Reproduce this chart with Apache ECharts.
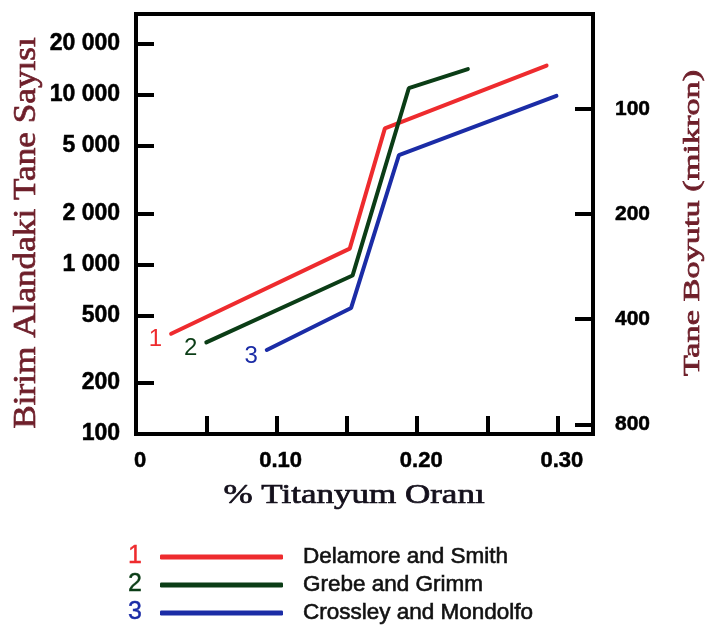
<!DOCTYPE html>
<html>
<head>
<meta charset="utf-8">
<script src="https://cdn.jsdelivr.net/npm/echarts@6/dist/echarts.min.js"></script>
<style>
  html, body { margin: 0; padding: 0; background: #fff; }
  #chart { width: 706px; height: 630px; }
</style>
</head>
<body>
<div id="chart"></div>
<script>
// Titanium content (%) vs. grain count per unit area, three studies
const seriesNames = ['Delamore and Smith', 'Grebe and Grimm', 'Crossley and Mondolfo'];
const seriesTags = ['1', '2', '3'];
const seriesColors = ['#ee2b2e', '#0b3d16', '#1b2ca6'];

const titaniumDelamore = [0.025, 0.152, 0.177, 0.292];
const countDelamore    = [390, 1240, 6350, 14900];

const titaniumGrebe = [0.050, 0.154, 0.194, 0.236];
const countGrebe    = [347, 860, 10950, 14200];

const titaniumCrossley = [0.093, 0.153, 0.187, 0.299];
const countCrossley    = [313, 554, 4420, 9870];

// axis ticks and ranges
const xTickValues = [0.05, 0.10, 0.15, 0.20, 0.25, 0.30];
const xLabelValues = [0, 0.10, 0.20, 0.30];
const xMin = 0, xMax = 0.325;

const countTickValues = [100, 200, 500, 1000, 2000, 5000, 10000, 20000];
const countMin = 100, countMax = 30000;

const sizeTickValues = [100, 200, 400, 800];
const sizeMin = 53.5, sizeMax = 853;

const titanium = [titaniumDelamore, titaniumGrebe, titaniumCrossley];
const counts = [countDelamore, countGrebe, countCrossley];

function groupThousands(n) {
  return n >= 1000 ? String(n).replace(/\B(?=(\d{3})+(?!\d))/g, ' ') : String(n);
}

const tickFont = { fontFamily: 'Liberation Sans', fontWeight: 'bold', color: '#000',
  textBorderColor: '#000', textBorderWidth: 0.5 };
const tickLine = { color: '#000', width: 4 };

const series = titanium.map((xs, s) => ({
  name: seriesNames[s],
  type: 'line',
  xAxisIndex: 0,
  yAxisIndex: 0,
  color: seriesColors[s],
  symbol: 'circle',
  symbolSize: 0,
  showSymbol: true,
  lineStyle: { width: 4, color: seriesColors[s], cap: 'round' },
  label: { show: false },
  emphasis: { disabled: true },
  data: xs.map((x, i) => {
    const item = { value: [x, counts[s][i]] };
    if (i === 0) {
      item.label = {
        show: true,
        position: 'left',
        distance: 9,
        offset: [0, 6],
        formatter: seriesTags[s],
        fontFamily: 'Liberation Sans',
        fontSize: 24,
        color: seriesColors[s]
      };
    }
    return item;
  })
}));

function titleText(text, x, y, size, rotation, stretch, fill) {
  return {
    type: 'text', x: x, y: y, rotation: rotation, scaleX: stretch, scaleY: 1,
    style: { text: text, font: size + 'px "Liberation Serif"', fill: fill,
      stroke: fill, lineWidth: 0.7,
      align: 'center', verticalAlign: 'middle', textAlign: 'center', textVerticalAlign: 'middle' }
  };
}

function tagText(s, y) {
  return {
    type: 'text', x: 135, y: y,
    style: { text: seriesTags[s], font: '25px "Liberation Sans"', fill: seriesColors[s],
      stroke: seriesColors[s], lineWidth: 0.4,
      align: 'center', verticalAlign: 'middle', textAlign: 'center', textVerticalAlign: 'middle' }
  };
}

const chart = echarts.init(document.getElementById('chart'), null, { renderer: 'canvas' });

chart.setOption({
  animation: false,
  backgroundColor: '#fff',
  grid: {
    left: 136, right: 113, top: 14, bottom: 196,
    show: true, borderColor: '#000', borderWidth: 4, backgroundColor: 'transparent'
  },
  xAxis: {
    type: 'value', min: xMin, max: xMax,
    axisLine: { show: false },
    splitLine: { show: false },
    axisTick: { show: true, inside: true, length: 18, customValues: xTickValues, lineStyle: tickLine },
    axisLabel: Object.assign({
      customValues: xLabelValues, margin: 16, fontSize: 22, padding: [0, 0, 0, 8],
      formatter: v => (v === 0 ? '0' : v.toFixed(2))
    }, tickFont)
  },
  yAxis: [
    {
      // data axis (logarithmic), ticks drawn by the companion axis below
      type: 'log', logBase: 10, min: countMin, max: countMax, position: 'left',
      axisLine: { show: false }, axisTick: { show: false }, axisLabel: { show: false },
      splitLine: { show: false }, minorTick: { show: false }
    },
    {
      // 1-2-5 tick marks of the count axis, in log10 units
      type: 'value', position: 'left',
      min: Math.log10(countMin), max: Math.log10(countMax),
      axisLine: { show: false }, splitLine: { show: false },
      axisTick: { show: true, inside: true, length: 18,
        customValues: countTickValues.map(v => Math.log10(v)), lineStyle: tickLine },
      axisLabel: Object.assign({
        customValues: countTickValues.map(v => Math.log10(v)), margin: 16, fontSize: 23,
        formatter: v => groupThousands(Math.round(Math.pow(10, v)))
      }, tickFont)
    },
    {
      // grain size (micron) scale on the right, log10 units, inverted
      type: 'value', position: 'right', inverse: true,
      min: Math.log10(sizeMin), max: Math.log10(sizeMax),
      axisLine: { show: false }, splitLine: { show: false },
      axisTick: { show: true, inside: true, length: 18,
        customValues: sizeTickValues.map(v => Math.log10(v)), lineStyle: tickLine },
      axisLabel: Object.assign({
        customValues: sizeTickValues.map(v => Math.log10(v)), margin: 22, fontSize: 21,
        formatter: v => String(Math.round(Math.pow(10, v)))
      }, tickFont)
    }
  ],
  legend: {
    orient: 'vertical', left: 160, top: 545, padding: 0,
    icon: 'roundRect', itemWidth: 123, itemHeight: 5, itemGap: 4,
    selectedMode: false,
    data: seriesNames,
    textStyle: { fontFamily: 'Liberation Sans', fontSize: 22.5, lineHeight: 24, color: '#111',
      textBorderColor: '#111', textBorderWidth: 0.6, padding: [0, 0, 0, 15] }
  },
  graphic: [
    titleText('Birim Alandaki Tane Sayısı', 27, 233, 32, Math.PI / 2, 1.1, '#6e1f2a'),
    titleText('Tane Boyutu (mikron)', 693, 223, 24, Math.PI / 2, 1.43, '#6e1f2a'),
    titleText('% Titanyum Oranı', 354, 496, 28, 0, 1.25, '#14101c'),
    tagText(0, 556),
    tagText(1, 584),
    tagText(2, 612)
  ],
  series: series
});
</script>
</body>
</html>
